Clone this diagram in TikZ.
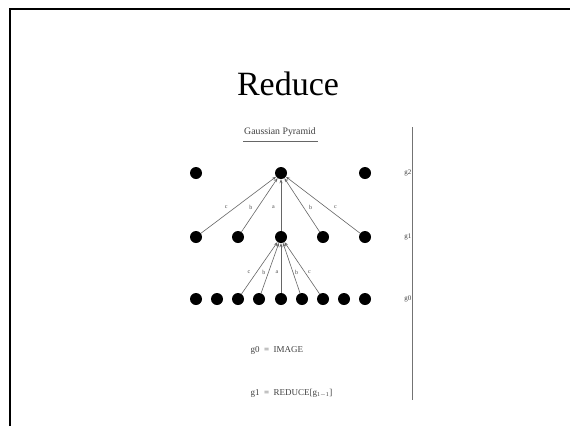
\documentclass[tikz,border=0pt]{standalone}
\usepackage{fontspec}
\setmainfont{Liberation Serif}
\usetikzlibrary{arrows.meta,positioning}
\begin{document}
\begin{tikzpicture}[x=1pt,y=-1pt,
  dot/.style={circle,fill=black,inner sep=0pt,minimum size=12pt},
  link/.style={draw=black!60,line width=0.6pt,-{Stealth[length=4pt,width=3pt]}},
  lab/.style={font=\fontsize{6}{7}\selectfont,text=black!70,inner sep=1pt},
  small/.style={font=\fontsize{7}{8}\selectfont,text=black!75},
  eqn/.style={font=\fontsize{9}{10}\selectfont,text=black!75}]
\useasboundingbox (0,0) rectangle (570,426);
\fill[white] (0,0) rectangle (570,426);
% frame
\coordinate (fb) at (9.5,426);
\coordinate (ft) at (9.5,9);
\coordinate (fr) at (570,9);
\draw[line width=2pt] (fb) -- (ft) -- (fr);
% title
\node[font=\fontsize{34}{40}\selectfont,anchor=base] (title) at (288,95) {Reduce};
% subtitle
\node[font=\fontsize{9.8}{11}\selectfont,text=black!75,anchor=base] (sub) at (280,134) {Gaussian Pyramid};
\coordinate (ul1) at (243,141);
\coordinate (ul2) at (318,141);
\draw[black!60,line width=0.6pt] (ul1) -- (ul2);
% vertical line
\coordinate (v1) at (412,127);
\coordinate (v2) at (412,400);
\draw[black!55,line width=0.8pt] (v1) -- (v2);
\node[small,anchor=east,inner sep=0.5pt] (lg2) at (412,173) {g2};
\node[small,anchor=east,inner sep=0.5pt] (lg1) at (412,237) {g1};
\node[small,anchor=east,inner sep=0.5pt] (lg0) at (412,299) {g0};
% row g2
\node[dot] (a1) at (196,173) {};
\node[dot] (a2) at (281,173) {};
\node[dot] (a3) at (365,173) {};
% row g1
\node[dot] (b1) at (196,237) {};
\node[dot] (b2) at (238,237) {};
\node[dot] (b3) at (281,237) {};
\node[dot] (b4) at (323,237) {};
\node[dot] (b5) at (365,237) {};
% row g0
\foreach \i/\x in {1/196,2/217,3/238,4/259,5/281,6/302,7/323,8/344,9/365}
  \node[dot] (c\i) at (\x,299) {};
% upper links
\draw[link] (b1) -- node[lab,pos=0.45,left=6pt,yshift=1pt] {c} (a2);
\draw[link] (b2) -- node[lab,pos=0.45,left=4pt] {b} (a2);
\draw[link] (b3) -- node[lab,pos=0.45,left=5pt] {a} (a2);
\draw[link] (b4) -- node[lab,pos=0.45,right=4pt] {b} (a2);
\draw[link] (b5) -- node[lab,pos=0.45,right=6pt,yshift=1pt] {c} (a2);
% lower links
\draw[link] (c3) -- node[lab,pos=0.42,left=5pt] {c} (b3);
\draw[link] (c4) -- node[lab,pos=0.42,left=2pt] {b} (b3);
\draw[link] (c5) -- node[lab,pos=0.42,left=1.5pt] {a} (b3);
\draw[link] (c6) -- node[lab,pos=0.42,right=1pt] {b} (b3);
\draw[link] (c7) -- node[lab,pos=0.42,right=2pt] {c} (b3);
% equations
\node[eqn,anchor=base west] (eq0) at (247,352) {g0\ \ =\ \ IMAGE};
\node[eqn,anchor=base west] (eq1) at (247,395) {g1\ \ =\ \ REDUCE[g$_{\mathrm{1-1}}$]};
\end{tikzpicture}
\end{document}
